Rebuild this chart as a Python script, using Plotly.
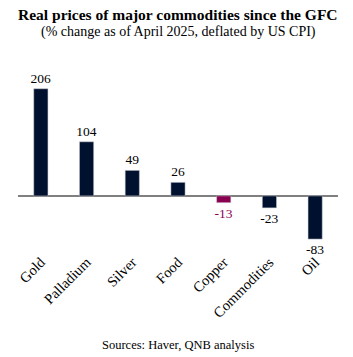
import plotly.graph_objects as go

categories = ["Gold", "Palladium", "Silver", "Food", "Copper", "Commodities", "Oil"]
values = [206, 104, 49, 26, -13, -23, -83]
bar_colors = ["#00112F", "#00112F", "#00112F", "#00112F", "#8A0050", "#00112F", "#00112F"]
label_colors = ["#000000", "#000000", "#000000", "#000000", "#8A0050", "#000000", "#000000"]
labels = [str(v) for v in values]

FONT = "Liberation Serif"

fig = go.Figure(go.Bar(
    x=categories, y=values,
    marker=dict(color=bar_colors, line=dict(color="#C8C8D0", width=0.5)),
    text=labels, textposition="outside", constraintext="none",
    textfont=dict(family=FONT, size=13.5, color=label_colors),
    cliponaxis=False,
))

fig.update_layout(
    width=353, height=357,
    margin=dict(l=18, r=15, t=70, b=107),
    paper_bgcolor="white", plot_bgcolor="white",
    bargap=0.69,
    showlegend=False,
    font=dict(family=FONT, color="#000000"),
    xaxis=dict(showline=False, showgrid=False, ticks="", tickangle=-45, automargin=False,
               tickfont=dict(family=FONT, size=14.5, color="#000000")),
    yaxis=dict(range=[-104, 242], showgrid=False, showticklabels=False,
               zeroline=True, zerolinecolor="#808080", zerolinewidth=1.5, showline=False),
)

plot_h = 357 - 70 - 107
def ypix(p):
    return (357 - 107 - p) / plot_h

fig.add_annotation(text="<b>Real prices of major commodities since the GFC</b>",
                   xref="paper", yref="paper", x=0.5, y=ypix(15),
                   xanchor="center", yanchor="middle", showarrow=False,
                   font=dict(family=FONT, size=15.5, color="#000000"))
fig.add_annotation(text="(% change as of April 2025, deflated by US CPI)",
                   xref="paper", yref="paper", x=0.5, y=ypix(32),
                   xanchor="center", yanchor="middle", showarrow=False,
                   font=dict(family=FONT, size=14, color="#000000"))
fig.add_annotation(text="Sources: Haver, QNB analysis",
                   xref="paper", yref="paper", x=0.5, y=ypix(345),
                   xanchor="center", yanchor="middle", showarrow=False,
                   font=dict(family=FONT, size=12.5, color="#000000"))

fig.write_html("out.html")
